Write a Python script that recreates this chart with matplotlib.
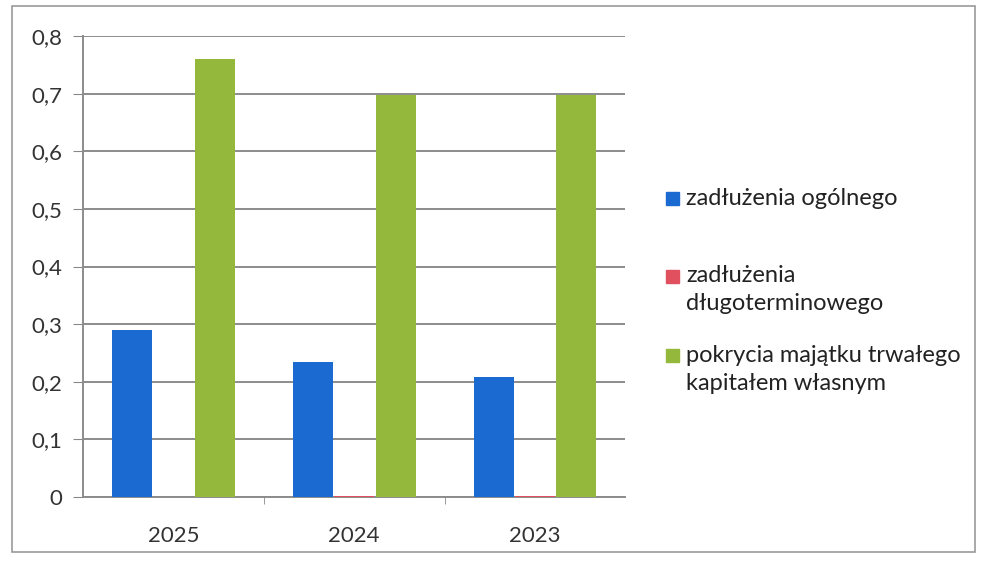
import numpy as np
import matplotlib.pyplot as plt
from matplotlib.patches import Rectangle

plt.rcParams['font.family'] = ['Lato', 'DejaVu Sans']

# data
years = ['2025', '2024', '2023']
ogolnego = [0.29, 0.235, 0.208]
dlugoterm = [0.0, 0.002, 0.002]
pokrycia = [0.76, 0.697, 0.698]
series_names = ['zadłużenia ogólnego',
                'zadłużenia\ndługoterminowego',
                'pokrycia majątku trwałego\nkapitałem własnym']
colors = ['#1b6ad2', '#e0505e', '#93b83c']

W, H = 981, 563
fig = plt.figure(figsize=(W / 100, H / 100), dpi=100)
ax = fig.add_axes([0.0846, 0.117, 0.553, 0.819])

x = np.arange(len(years))
w = 0.222
for i, vals in enumerate([ogolnego, dlugoterm, pokrycia]):
    ax.bar(x + (i - 1) * w * 1.03, vals, w, color=colors[i],
           label=series_names[i], zorder=3)

ax.set_xlim(-0.5, 2.5)
ax.set_ylim(0, 0.8)
ax.set_yticks(np.arange(0, 0.81, 0.1))
ax.set_yticklabels([f'{v:.1f}'.replace('.', ',') if v > 0 else '0'
                    for v in np.arange(0, 0.81, 0.1)])
ax.set_xticks(x)
ax.set_xticklabels(years)
ax.set_xticks([0.5, 1.5], minor=True)
ax.tick_params(axis='x', which='major', length=0, pad=21, labelsize=16, colors='#333333')
ax.tick_params(axis='x', which='minor', length=5, color='#888888')
ax.tick_params(axis='y', length=7, color='#888888', labelcolor='#333333',
               pad=8, labelsize=16)
ax.grid(axis='y', color='#8c8c8c', linewidth=1.4, zorder=0)
for s in ['top', 'right']:
    ax.spines[s].set_visible(False)
for s in ['left', 'bottom']:
    ax.spines[s].set_color('#8c8c8c')
    ax.spines[s].set_linewidth(1.4)

# legend drawn by hand: marker sits on the first line of each entry
leg_y = [198, 276, 355]   # pixel rows of first lines
line_h = 28
for name, c, y0 in zip(series_names, colors, leg_y):
    fig.patches.append(Rectangle((666 / W, 1 - (y0 + 6.5) / H), 13 / W, 13 / H,
                                 transform=fig.transFigure, color=c))
    for k, line in enumerate(name.split('\n')):
        fig.text(686 / W, 1 - (y0 + k * line_h) / H, line, fontsize=17,
                 color='#222222', va='center')

fig.patches.append(Rectangle((0.012, 0.0195), 0.982, 0.97, transform=fig.transFigure,
                             fill=False, edgecolor='#999999', linewidth=1.2))

fig.savefig('out.png', dpi=100)
